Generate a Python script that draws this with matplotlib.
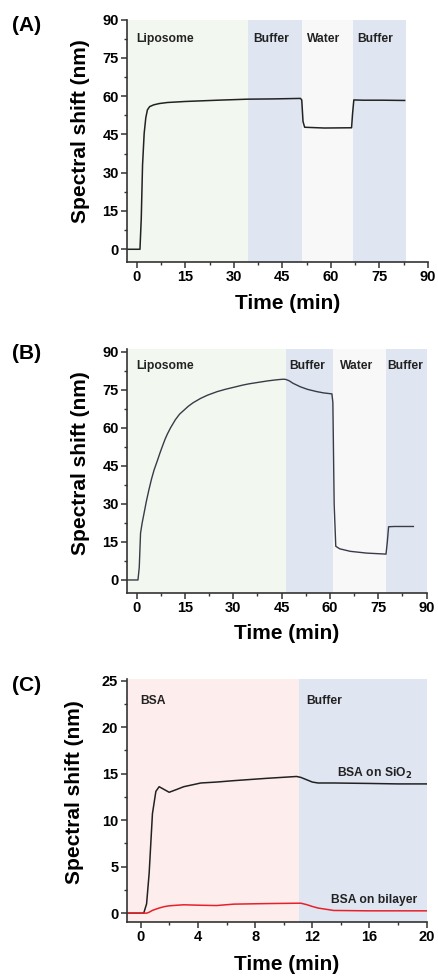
import numpy as np
import matplotlib.pyplot as plt
from matplotlib.ticker import MultipleLocator

plt.rcParams['font.family'] = ['Liberation Sans', 'DejaVu Sans']
plt.rcParams['font.weight'] = 'bold'

#____________________________ data ____________________________

# panel A
a_time = [-3, 1.0, 1.4, 1.8, 2.3, 2.8, 3.3, 4.0, 5.3, 7.0, 9.5, 15, 25, 34.2, 42, 50.6, 51.0,
          51.4, 51.9, 58, 66.4, 66.7, 67.1, 70, 76, 82.8]
a_shift = [0, 0, 12, 33, 45.4, 51.5, 54.6, 55.9, 56.6, 57.1, 57.5, 57.9, 58.4, 58.8, 58.9, 59.1, 58.5,
           50, 47.8, 47.5, 47.6, 53, 58.5, 58.4, 58.4, 58.3]
a_regions = [(-3, 34.3, 'Liposome'), (34.3, 51.1, 'Buffer'), (51.1, 66.7, 'Water'), (66.7, 83.2, 'Buffer')]

# panel B
b_time = [-3, 0.4, 0.8, 1.2, 1.7, 2.3, 3.0, 3.8, 4.6, 5.4, 6.4, 7.2, 8.0, 8.8, 9.5, 10.5, 12, 13.3,
          14.7, 16, 17.5, 19.8, 22, 25, 27.5, 30.1, 33, 35, 38, 40.5, 43, 44.6, 45.6, 46.3, 47.3, 48.5,
          50.8, 53, 55.9, 58, 60.6, 60.9, 61.3, 61.8, 63, 66.3, 71.4, 77.4, 77.8, 78.2, 80, 85.9]
b_shift = [0, 0, 5, 18.5, 22.5, 26.4, 31.0, 35.6, 39.8, 43.4, 47.0, 50.0, 52.8, 55.5, 57.5, 60.0, 63.2, 65.4,
           67.0, 68.5, 69.9, 71.6, 72.9, 74.3, 75.2, 76.0, 76.9, 77.4, 78.0, 78.5, 78.9, 79.1, 79.2, 79.1, 78.6, 77.6,
           76.2, 75.2, 74.3, 73.8, 73.4, 70, 30, 13.3, 12.3, 11.3, 10.6, 10.2, 15, 21.0, 21.1, 21.1]
b_regions = [(-3, 46.3, 'Liposome'), (46.3, 60.8, 'Buffer'), (60.8, 77.4, 'Water'), (77.4, 90, 'Buffer')]

# panel C
c_time = [-1, 0.2, 0.4, 0.58, 0.81, 1.05, 1.28, 1.63, 1.98, 2.5, 3.0, 4.2, 5.3, 6.5, 8.8, 10.9,
          11.2, 11.6, 12.0, 12.4, 13.5, 16, 18, 20]
c_sio2 = [0, 0, 1.0, 4.3, 10.7, 13.1, 13.6, 13.3, 13.0, 13.3, 13.6, 14.0, 14.1, 14.25, 14.5, 14.7,
          14.6, 14.35, 14.1, 14.0, 14.0, 13.95, 13.9, 13.9]
c_bilayer = [0, 0, 0, 0.1, 0.3, 0.43, 0.55, 0.7, 0.79, 0.85, 0.9, 0.85, 0.82, 0.97, 1.03, 1.07,
             1.07, 0.92, 0.72, 0.55, 0.29, 0.25, 0.25, 0.25]
c_regions = [(-1, 11.1, 'BSA'), (11.1, 20, 'Buffer')]

region_colors = {'Liposome': '#f2f7ef', 'Buffer': '#dfe6f2', 'Water': '#f8f8f8', 'BSA': '#fdeeed'}

#____________________________ plotting ____________________________

fig = plt.figure(figsize=(4.38, 9.77), dpi=100)
ax_a = fig.add_axes([0.290, 0.7318, 0.687, 0.2482])
ax_b = fig.add_axes([0.290, 0.3934, 0.684, 0.2491])
ax_c = fig.add_axes([0.289, 0.0563, 0.685, 0.2484])


def style_axis(ax, xlim, ylim, xmaj, ymaj, ylab_xy, xlab_xy):
    ax.set_xlim(*xlim)
    ax.set_ylim(*ylim)
    ax.xaxis.set_major_locator(MultipleLocator(xmaj))
    ax.xaxis.set_minor_locator(MultipleLocator(xmaj / 2))
    ax.yaxis.set_major_locator(MultipleLocator(ymaj))
    ax.yaxis.set_minor_locator(MultipleLocator(ymaj / 2))
    for side in ['top', 'right']:
        ax.spines[side].set_visible(False)
    for side in ['left', 'bottom']:
        ax.spines[side].set_linewidth(1.2)
        ax.spines[side].set_color('#333333')
    ax.tick_params(which='major', length=4, width=1.1, color='#333333', labelsize=10.5, pad=2)
    ax.tick_params(which='minor', length=2.5, width=1.0, color='#333333')
    for lab in ax.get_xticklabels() + ax.get_yticklabels():
        lab.set_fontweight('bold')
    xl = ax.set_xlabel('Time (min)', fontsize=15, fontweight='bold', va='center')
    yl = ax.set_ylabel('Spectral shift (nm)', fontsize=15, fontweight='bold', va='center')
    ax.xaxis.set_label_coords(*xlab_xy)
    ax.yaxis.set_label_coords(*ylab_xy)


def shade(ax, regions, text_x, ytext):
    for (x0, x1, name), tx in zip(regions, text_x):
        ax.axvspan(x0, x1, color=region_colors[name], lw=0, zorder=0)
        ax.text(tx, ytext, name, fontsize=8.7, fontweight='bold', color='#222222', va='center')


# (A)
style_axis(ax_a, (-3, 90), (-5, 90), 15, 15, (-0.156, 0.54), (0.533, -0.169))
shade(ax_a, a_regions, [-0.2, 36.0, 52.7, 68.2], 82.5)
ax_a.plot(a_time, a_shift, color='#222222', lw=1.1)

# (B)
style_axis(ax_b, (-3, 90), (-5, 91), 15, 15, (-0.156, 0.533), (0.533, -0.166))
shade(ax_b, b_regions, [-0.2, 47.5, 63.1, 77.7], 84.3)
ax_b.plot(b_time, b_shift, color='#3a3a48', lw=1.0)

# (C)
style_axis(ax_c, (-1, 20), (-0.95, 25.15), 4, 5, (-0.172, 0.534), (0.533, -0.177))
shade(ax_c, c_regions, [-0.05, 11.6], 22.8)
ax_c.plot(c_time, c_sio2, color='#222222', lw=1.1)
ax_c.plot(c_time, c_bilayer, color='#e8202a', lw=1.1)
ax_c.text(13.7, 15.0, 'BSA on SiO$_\\mathbf{2}$', fontsize=8.7, fontweight='bold', color='#222222', va='center')
ax_c.text(13.3, 1.4, 'BSA on bilayer', fontsize=8.7, fontweight='bold', color='#222222', va='center')

# panel letters
fig.text(0.028, 0.974, '(A)', fontsize=15, fontweight='bold', va='center')
fig.text(0.028, 0.638, '(B)', fontsize=15, fontweight='bold', va='center')
fig.text(0.028, 0.298, '(C)', fontsize=15, fontweight='bold', va='center')

fig.savefig('out.png', dpi=100)
